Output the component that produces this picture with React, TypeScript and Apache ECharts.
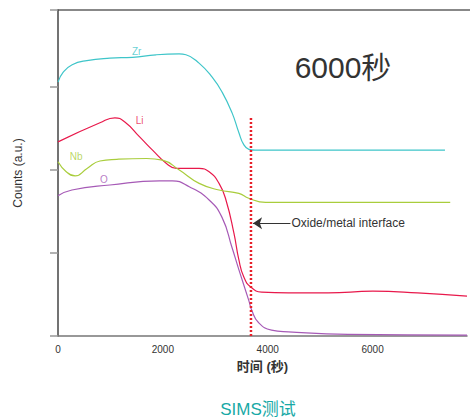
import React, { useEffect, useRef } from "react";
import * as echarts from "echarts";

const FONT = "'Liberation Sans', 'Noto Sans CJK SC', sans-serif";

const xTicks = [0, 2000, 4000, 6000];

const zrData: [number, number][] = [
  [0, 3.06], [100, 3.18], [270, 3.27], [550, 3.32], [990, 3.35], [1420, 3.36],
  [1870, 3.39], [2310, 3.4], [2440, 3.39], [2690, 3.29], [2940, 3.12], [3130, 2.94],
  [3320, 2.69], [3450, 2.45], [3540, 2.31], [3640, 2.25], [3760, 2.24], [4500, 2.24],
  [7380, 2.24],
];

const liData: [number, number][] = [
  [0, 2.34], [800, 2.57], [1085, 2.63], [1275, 2.58], [1557, 2.4], [1803, 2.24],
  [2068, 2.08], [2257, 2.02], [2692, 2.02], [2882, 1.98], [3071, 1.84], [3203, 1.64],
  [3355, 1.24], [3449, 0.92], [3544, 0.71], [3676, 0.59], [3884, 0.53], [4395, 0.52],
  [5152, 0.52], [6003, 0.54], [6855, 0.52], [7800, 0.48],
];

const nbData: [number, number][] = [
  [0, 2.1], [157, 1.98], [327, 1.93], [554, 2.02], [800, 2.11], [1122, 2.13],
  [1690, 2.14], [1992, 2.12], [2314, 2.0], [2692, 1.84], [3071, 1.76], [3449, 1.72],
  [3638, 1.66], [3960, 1.61], [7480, 1.61],
];

const oData: [number, number][] = [
  [0, 1.69], [265, 1.76], [990, 1.82], [1935, 1.87], [2181, 1.87], [2503, 1.8],
  [2882, 1.64], [3128, 1.43], [3317, 1.07], [3449, 0.8], [3638, 0.43], [3695, 0.31],
  [3827, 0.16], [4073, 0.07], [4395, 0.05], [5530, 0.02], [7800, 0.01],
];

const interfaceLine: [number, number][] = [
  [3680, 0], [3680, 2.63],
];

const seriesNames = ["Zr", "Li", "Nb", "O"];
const seriesColors = ["#3ec5c9", "#e8194b", "#a9cd3c", "#a65ab6"];
const labelX = [1500, 1557, 346, 876];
const labelY = [3.43, 2.6, 2.16, 1.89];

const arrowStart: [number, number] = [4433, 1.36];
const arrowEnd: [number, number] = [3720, 1.36];

export default function App() {
  const ref = useRef<HTMLDivElement>(null);
  useEffect(() => {
    document.body.style.margin = "0";
    const chart = echarts.init(ref.current!, null, { renderer: "svg" });
    const datasets = [zrData, liData, nbData, oData];
    const lineSeries = datasets.map((d, i) => ({
      name: seriesNames[i],
      type: "line",
      data: d,
      smooth: 0.5,
      showSymbol: false,
      symbol: "none",
      lineStyle: { color: seriesColors[i], width: 1.2 },
      z: 3,
    }));
    chart.setOption({
      animation: false,
      grid: { left: 58, right: 0, top: 10, bottom: 83 },
      xAxis: {
        type: "value",
        min: 0,
        max: 7800,
        interval: 2000,
        axisLine: { show: true, lineStyle: { color: "#777", width: 1.5 } },
        axisTick: { show: false },
        splitLine: { show: false },
        axisLabel: {
          color: "#333",
          fontSize: 10,
          fontFamily: FONT,
          margin: 8,
          formatter: (v: number) => (xTicks.includes(v) ? String(v) : ""),
        },
        name: "时间 (秒)",
        nameLocation: "middle",
        nameGap: 24,
        nameTextStyle: { color: "#333", fontSize: 13, fontWeight: "bold", fontFamily: FONT },
      },
      yAxis: {
        type: "value",
        min: 0,
        max: 3.93,
        interval: 1,
        axisLine: { show: true, lineStyle: { color: "#444", width: 1.5 } },
        axisTick: { show: true, length: 8, inside: false, lineStyle: { color: "#999", width: 1.5 } },
        axisLabel: { show: false },
        splitLine: { show: false },
        name: "Counts (a.u.)",
        nameLocation: "middle",
        nameRotate: 90,
        nameGap: 34,
        nameTextStyle: { color: "#333", fontSize: 12, fontFamily: FONT },
      },
      graphic: [
        {
          type: "line",
          shape: { x1: 57, y1: 10, x2: 470, y2: 10 },
          style: { stroke: "#888", lineWidth: 2 },
        },
        {
          type: "text",
          x: 343,
          y: 67,
          style: {
            text: "6000秒",
            fill: "#333",
            fontSize: 30,
            fontFamily: FONT,
            textAlign: "center",
            textVerticalAlign: "middle",
          },
        },
        {
          type: "text",
          x: 258,
          y: 409,
          style: {
            text: "SIMS测试",
            fill: "#17a9a6",
            fontSize: 17,
            fontFamily: FONT,
            textAlign: "center",
            textVerticalAlign: "middle",
          },
        },
      ],
      series: [
        ...lineSeries,
        {
          name: "interface",
          type: "line",
          data: interfaceLine,
          showSymbol: false,
          symbol: "none",
          lineStyle: { color: "#e8202a", width: 2.5, type: [2, 2] },
          z: 4,
          markLine: {
            silent: true,
            symbol: ["none", "arrow"],
            symbolSize: 9,
            lineStyle: { color: "#333", type: "solid", width: 1.2 },
            label: {
              show: true,
              position: "start",
              distance: 1,
              formatter: "Oxide/metal interface",
              color: "#333",
              fontSize: 12,
              fontFamily: FONT,
            },
            data: [[{ coord: arrowStart }, { coord: arrowEnd }]],
          },
        },
        {
          name: "labels",
          type: "scatter",
          silent: true,
          symbolSize: 0,
          data: seriesNames.map((n, i) => ({
            name: n,
            value: [labelX[i], labelY[i]],
            label: { color: seriesColors[i] },
          })),
          label: {
            show: true,
            position: "inside",
            formatter: "{b}",
            fontSize: 10,
            fontFamily: FONT,
          },
        },
      ],
    });
    return () => chart.dispose();
  }, []);
  return <div ref={ref} style={{ width: 470, height: 419, position: "absolute", left: 0, top: 0 }} />;
}
